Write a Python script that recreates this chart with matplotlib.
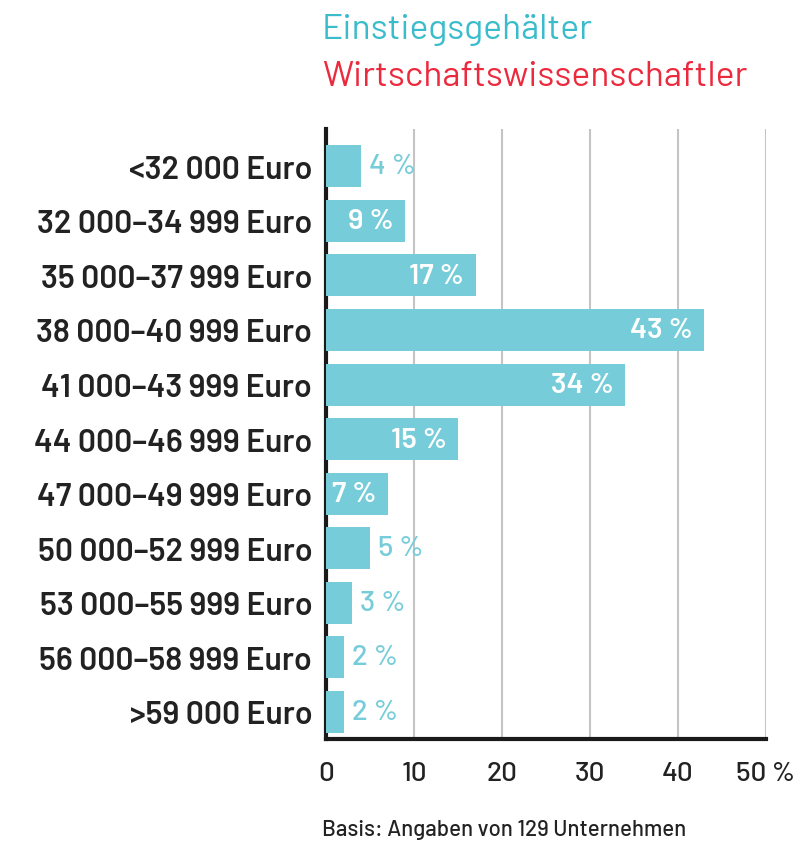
import matplotlib.pyplot as plt

# Daten
kategorien = ['<32 000 Euro', '32 000–34 999 Euro', '35 000–37 999 Euro',
              '38 000–40 999 Euro', '41 000–43 999 Euro', '44 000–46 999 Euro',
              '47 000–49 999 Euro', '50 000–52 999 Euro', '53 000–55 999 Euro',
              '56 000–58 999 Euro', '>59 000 Euro']
anteile = [4, 9, 17, 43, 34, 15, 7, 5, 3, 2, 2]
x_ticks = [0, 10, 20, 30, 40, 50]
x_labels = ['0', '10', '20', '30', '40', '50 %']

BAR = '#76cdd9'
DARK = '#222222'
FONT = ['Barlow', 'DejaVu Sans']

plt.rcParams['font.family'] = FONT

fig = plt.figure(figsize=(8.07, 8.45), dpi=100)
ax = fig.add_axes([0.404, 0.124, 0.545, 0.722])

y = list(range(len(kategorien)))
ax.barh(y, anteile, height=0.77, color=BAR, zorder=3)

for i, v in enumerate(anteile):
    txt = f'{v} %'
    if v >= 7:
        ax.text(v - 1.3, i, txt, ha='right', va='center', color='white',
                fontsize=21, fontweight=600, zorder=4)
    else:
        ax.text(v + 0.9, i, txt, ha='left', va='center', color=BAR,
                fontsize=21, fontweight=500, zorder=4)

ax.set_xlim(0, 50)
ax.set_ylim(10.5, -0.68)
ax.set_xticks(x_ticks)
ax.set_xticklabels(x_labels, fontsize=20, fontweight=500, color=DARK)
ax.set_yticks(y)
ax.set_yticklabels(kategorien, fontsize=23, fontweight=600, color=DARK)
ax.tick_params(axis='both', length=0)
ax.tick_params(axis='x', pad=16)
ax.tick_params(axis='y', pad=10)

for t in x_ticks[1:]:
    ax.axvline(t, color='#c4c4c4', lw=1.5, zorder=1)

for s in ['top', 'right']:
    ax.spines[s].set_visible(False)
ax.spines['left'].set_linewidth(3)
ax.spines['left'].set_color('#1a1a1a')
ax.spines['left'].set_zorder(2)
ax.spines['bottom'].set_linewidth(3)
ax.spines['bottom'].set_color('#1a1a1a')

fig.text(0.399, 0.964, 'Einstiegsgehälter', color='#3bbccc', fontsize=25.5,
         ha='left', va='center')
fig.text(0.399, 0.909, 'Wirtschaftswissenschaftler', color='#ec2a3e',
         fontsize=25.5, ha='left', va='center')
fig.text(0.399, 0.018, 'Basis: Angaben von 129 Unternehmen', color=DARK,
         fontsize=16, fontweight=500, ha='left', va='center')

fig.savefig('out.png', dpi=100, facecolor='white')
